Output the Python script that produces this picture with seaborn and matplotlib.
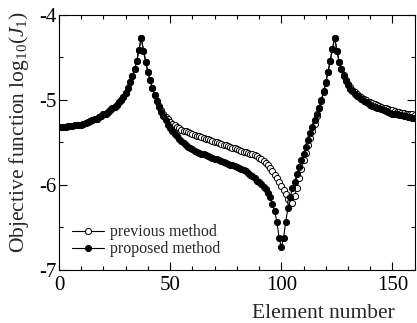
import numpy as np
import pandas as pd
import matplotlib
matplotlib.use("Agg")
import matplotlib.pyplot as plt
from matplotlib.ticker import MultipleLocator
import seaborn as sns

# element numbers 1..160
elements = list(range(1, 161))

# both methods coincide up to the first peak (elements 1-37)
common_left = [-5.32, -5.32, -5.32, -5.31, -5.31, -5.31, -5.30, -5.30, -5.29, -5.29,
               -5.28, -5.27, -5.26, -5.25, -5.24, -5.23, -5.22, -5.20, -5.19, -5.17,
               -5.16, -5.14, -5.12, -5.10, -5.08, -5.06, -5.03, -5.00, -4.96, -4.92,
               -4.86, -4.79, -4.72, -4.64, -4.54, -4.41, -4.27]

# proposed method, elements 38-160
proposed_rest = [-4.42, -4.55, -4.67,
                 -4.77, -4.86, -4.94, -5.01, -5.08, -5.14, -5.19, -5.24, -5.29, -5.33,
                 -5.37, -5.40, -5.43, -5.46, -5.48, -5.51, -5.53, -5.55, -5.57, -5.58,
                 -5.60, -5.61, -5.62, -5.63, -5.64, -5.65, -5.66, -5.67, -5.68, -5.69,
                 -5.70, -5.71, -5.72, -5.73, -5.74, -5.75, -5.76, -5.77, -5.78, -5.79,
                 -5.80, -5.81, -5.82, -5.84, -5.86, -5.88, -5.90, -5.92, -5.95, -5.97,
                 -5.99, -6.02, -6.05, -6.09, -6.14, -6.22, -6.31, -6.43, -6.62, -6.73,
                 -6.62, -6.43, -6.27, -6.14, -6.04, -5.96, -5.87, -5.79, -5.71, -5.63,
                 -5.55, -5.47, -5.39, -5.32, -5.24, -5.17, -5.09, -5.00, -4.90, -4.79,
                 -4.67, -4.54, -4.40, -4.27,
                 -4.42, -4.55, -4.64, -4.72, -4.78, -4.83,
                 -4.87, -4.90, -4.93, -4.95, -4.97, -4.99, -5.01, -5.03, -5.04, -5.06,
                 -5.07, -5.08, -5.09, -5.10, -5.11, -5.12, -5.13, -5.14, -5.15, -5.16,
                 -5.16, -5.17, -5.18, -5.18, -5.19, -5.19, -5.20, -5.20, -5.21, -5.21]

# previous method, elements 38-160
previous_rest = [-4.42, -4.55, -4.67,
                 -4.77, -4.86, -4.94, -5.01, -5.07, -5.12, -5.16, -5.20, -5.23, -5.26,
                 -5.28, -5.30, -5.32, -5.33, -5.35, -5.36, -5.37, -5.38, -5.39, -5.40,
                 -5.41, -5.42, -5.43, -5.44, -5.45, -5.46, -5.46, -5.47, -5.48, -5.49,
                 -5.50, -5.51, -5.52, -5.53, -5.53, -5.54, -5.55, -5.56, -5.57, -5.58,
                 -5.59, -5.60, -5.61, -5.61, -5.62, -5.63, -5.64, -5.65, -5.66, -5.68,
                 -5.70, -5.72, -5.74, -5.77, -5.80, -5.84, -5.88, -5.92, -5.96, -6.01,
                 -6.06, -6.11, -6.16, -6.20, -6.21, -6.13, -6.03, -5.92, -5.81, -5.71,
                 -5.62, -5.53, -5.45, -5.37, -5.28, -5.19, -5.10, -5.01, -4.91, -4.80,
                 -4.67, -4.54, -4.40, -4.27,
                 -4.42, -4.55, -4.64, -4.71, -4.77, -4.81,
                 -4.85, -4.88, -4.91, -4.93, -4.95, -4.97, -4.99, -5.00, -5.02, -5.03,
                 -5.04, -5.05, -5.06, -5.07, -5.08, -5.09, -5.10, -5.11, -5.12, -5.12,
                 -5.13, -5.14, -5.14, -5.15, -5.15, -5.16, -5.16, -5.17, -5.17, -5.18]

previous = common_left + previous_rest
proposed = common_left + proposed_rest

df = pd.DataFrame({"element": elements, "previous": previous, "proposed": proposed})

sns.set_theme(style="ticks")
plt.rcParams["font.family"] = ["Liberation Serif", "DejaVu Serif"]
plt.rcParams["mathtext.fontset"] = "custom"
plt.rcParams["mathtext.rm"] = "Liberation Serif"
plt.rcParams["mathtext.it"] = "Liberation Serif:italic"
plt.rcParams["axes.unicode_minus"] = False

fig = plt.figure(figsize=(4.17, 3.23), dpi=100)
ax = fig.add_axes([0.1415, 0.164, 0.853, 0.79])

sns.lineplot(data=df, x="element", y="previous", ax=ax, color="black", linewidth=0.8,
             marker="o", markersize=4.4, markerfacecolor="white", markeredgecolor="black",
             markeredgewidth=0.7, label="previous method")
sns.lineplot(data=df, x="element", y="proposed", ax=ax, color="black", linewidth=0.8,
             marker="o", markersize=4.4, markerfacecolor="black", markeredgecolor="black",
             markeredgewidth=0.7, label="proposed method")

ax.set_xlim(0, 160)
ax.set_ylim(-7, -4)
ax.set_xticks([0, 50, 100, 150])
ax.set_yticks([-7, -6, -5, -4])
ax.xaxis.set_minor_locator(MultipleLocator(10))
ax.yaxis.set_minor_locator(MultipleLocator(0.5))
ax.tick_params(which="both", direction="in", top=True, right=True, width=0.8,
               colors="black", labelsize=15)
ax.tick_params(axis="y", pad=1.5)
ax.tick_params(axis="x", pad=4.5)
ax.tick_params(which="major", length=6)
ax.tick_params(which="minor", length=3)
for s in ax.spines.values():
    s.set_linewidth(0.8)
    s.set_color("black")

ax.set_xlabel("Element number", fontsize=15.5)
ax.xaxis.set_label_coords(0.742, -0.135)
ax.set_ylabel(r"Objective function log$_{10}$($J_1$)", fontsize=15.5)
ax.yaxis.set_label_coords(-0.078, 0.54)

ax.legend(loc="lower left", bbox_to_anchor=(0.0, 0.0), frameon=False, fontsize=11.5,
          handlelength=2.0, handletextpad=0.4, labelspacing=0.05, borderpad=0.3)

fig.savefig("out.png", dpi=100)
